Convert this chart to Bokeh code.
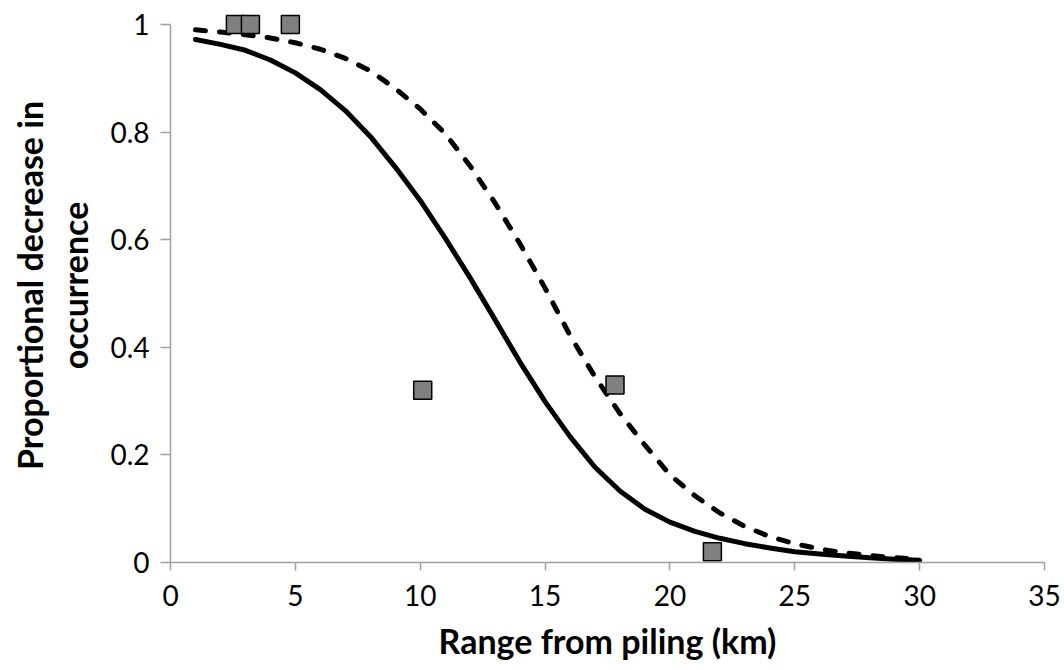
from bokeh.plotting import figure
from bokeh.models import Range1d, FixedTicker, NumeralTickFormatter
from bokeh.embed import file_html
from bokeh.resources import INLINE

# Observed data points
obs_x = [2.6, 3.2, 4.8, 10.1, 17.8, 21.7]
obs_y = [1.0, 1.0, 1.0, 0.32, 0.33, 0.02]

# Fitted curves
curve_x = [1, 2, 3, 4, 5, 6, 7, 8, 9, 10, 11, 12, 13, 14, 15,
           16, 17, 18, 19, 20, 21, 22, 23, 24, 25, 26, 27, 28, 29, 30]
solid_y = [0.972, 0.963, 0.952, 0.934, 0.910, 0.879, 0.840, 0.792, 0.735, 0.673,
           0.603, 0.529, 0.451, 0.372, 0.299, 0.234, 0.177, 0.133, 0.099, 0.075,
           0.058, 0.045, 0.035, 0.027, 0.020, 0.016, 0.012, 0.009, 0.006, 0.004]
dashed_y = [0.990, 0.986, 0.981, 0.975, 0.966, 0.954, 0.937, 0.914, 0.881, 0.843,
            0.797, 0.737, 0.668, 0.592, 0.510, 0.422, 0.345, 0.277, 0.218, 0.163,
            0.124, 0.092, 0.067, 0.048, 0.035, 0.025, 0.018, 0.013, 0.009, 0.006]

x_ticks = [0, 5, 10, 15, 20, 25, 30, 35]
y_ticks = [0, 0.2, 0.4, 0.6, 0.8, 1.0]

FONT = "Lato"

p = figure(width=1064, height=670, output_backend="svg", toolbar_location=None,
           x_range=Range1d(0, 35), y_range=Range1d(0, 1.0297),
           min_border_left=170, min_border_right=20, min_border_top=8,
           min_border_bottom=108)
p.outline_line_color = None
p.grid.visible = False
p.background_fill_color = "white"
p.border_fill_color = "white"

p.line(curve_x, solid_y, line_color="black", line_width=5, line_cap="round",
       line_join="round")
p.line(curve_x, dashed_y, line_color="black", line_width=5, line_cap="round",
       line_join="round", line_dash="10 14")
p.scatter(obs_x, obs_y, marker="square", size=18, fill_color="#808080",
          line_color="black", line_width=1.5)

for ax in (p.xaxis[0], p.yaxis[0]):
    ax.axis_line_color = "#a0a0a0"
    ax.axis_line_width = 1.5
    ax.major_tick_line_color = "#a0a0a0"
    ax.major_tick_line_width = 1.5
    ax.major_tick_in = 0
    ax.minor_tick_line_color = None
    ax.major_label_text_font = FONT
    ax.major_label_text_font_size = "28px"
    ax.major_label_text_color = "black"
    ax.axis_label_text_font = FONT
    ax.axis_label_text_font_style = "bold"
    ax.axis_label_text_font_size = "34px"
    ax.axis_label_text_color = "black"

p.xaxis.ticker = FixedTicker(ticks=x_ticks)
p.xaxis.bounds = (0, 35)
p.xaxis.major_tick_out = 8
p.xaxis.major_label_standoff = 14
p.xaxis.axis_label = "Range from piling (km)"
p.xaxis.axis_label_standoff = 11

p.yaxis.ticker = FixedTicker(ticks=y_ticks)
p.yaxis.formatter = NumeralTickFormatter(format="0.[0]")
p.yaxis.bounds = (0, 1)
p.yaxis.major_tick_out = 10
p.yaxis.major_label_standoff = 11
p.yaxis.axis_label = "Proportional decrease in\noccurrence"
p.yaxis.axis_label_text_line_height = 1.1
p.yaxis.axis_label_standoff = 12

open("out.html", "w").write(file_html(p, INLINE))
